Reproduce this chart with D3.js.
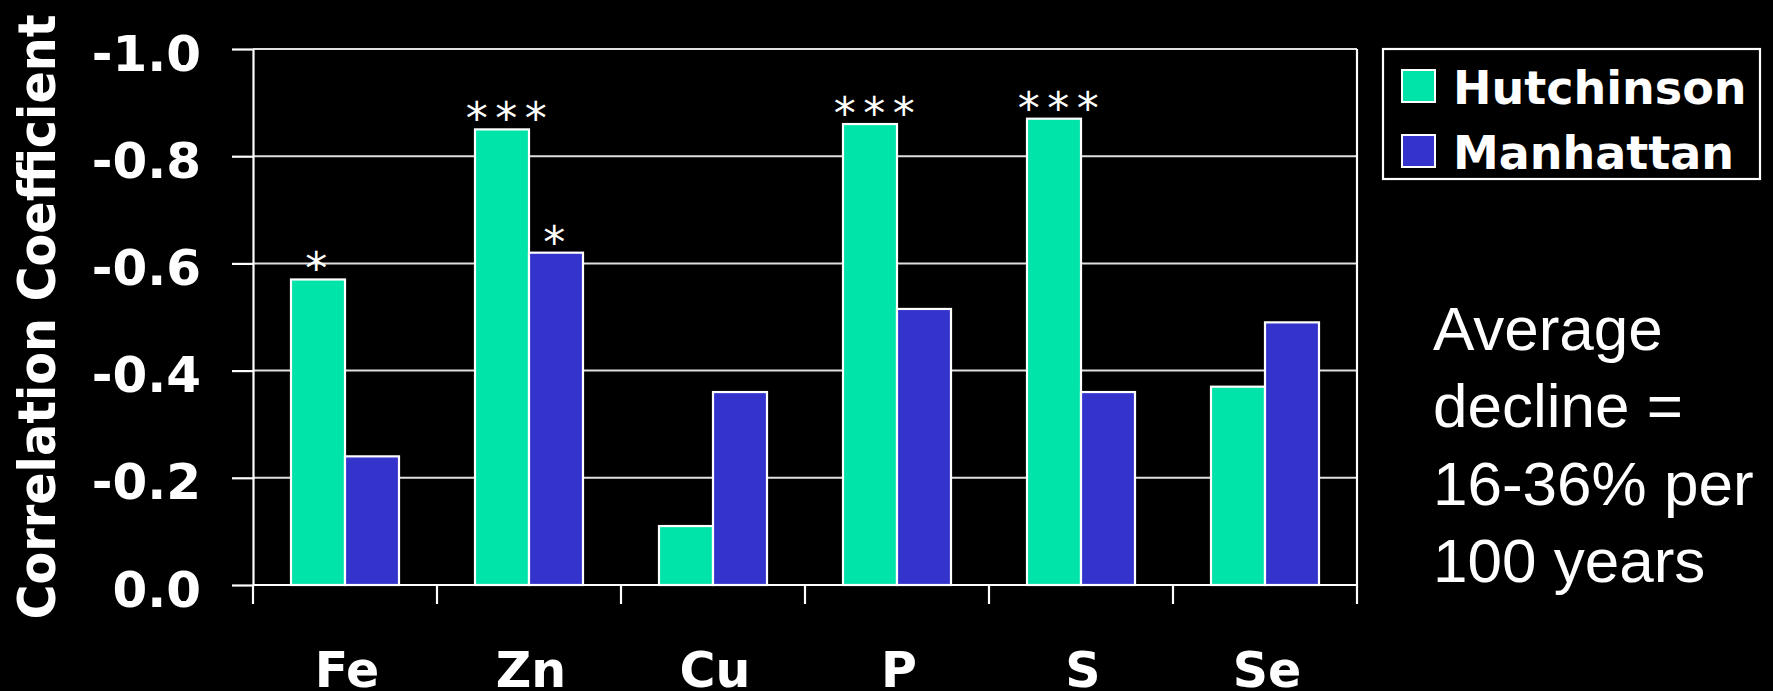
<!DOCTYPE html>
<html>
<head>
<meta charset="utf-8">
<script src="https://cdn.jsdelivr.net/npm/d3@7"></script>
<style>
  html, body { margin: 0; padding: 0; background: #000; }
  svg { display: block; }
</style>
</head>
<body>
<script>
// ---- data ----
const categories = ["Fe", "Zn", "Cu", "P", "S", "Se"];
const seriesNames = ["Hutchinson", "Manhattan"];
const hutchinson = [-0.57, -0.85, -0.11, -0.86, -0.87, -0.37];
const manhattan = [-0.24, -0.62, -0.36, -0.515, -0.36, -0.49];
const hutchinsonSig = ["*", "***", "", "***", "***", ""];
const manhattanSig = ["", "*", "", "", "", ""];
const yTicks = [0, -0.2, -0.4, -0.6, -0.8, -1.0];
const yLabel = "Correlation Coefficient";
const noteLines = ["Average", "decline =", "16-36% per", "100 years"];
const colors = ["#00E4A9", "#3434CC"];

(function () {
// ---- layout ----
const W = 1773, H = 691;
const pL = 253, pR = 1357, pT = 49, pB = 585;

const svg = d3.select("body").append("svg")
  .attr("width", W).attr("height", H)
  .style("background", "#000");

const x = d3.scaleBand().domain(categories).range([pL, pR])
  .paddingInner(0.413).paddingOuter(0.2065);
const xs = d3.scaleBand().domain(seriesNames).range([0, x.bandwidth()]);
const y = d3.scaleLinear().domain([0, -1.0]).range([pB, pT]);

const BOLD = "'DejaVu Sans', Verdana, sans-serif";
const REG = "'Liberation Sans', Arial, sans-serif";

// gridlines
svg.append("g")
  .selectAll("line").data(yTicks.filter(d => d !== 0)).join("line")
  .attr("x1", pL).attr("x2", pR)
  .attr("y1", d => y(d)).attr("y2", d => y(d))
  .attr("stroke", "#e0e0e0").attr("stroke-width", 2);

// bars
const rows = categories.map((c, i) => ({ c, vals: [hutchinson[i], manhattan[i]], sig: [hutchinsonSig[i], manhattanSig[i]] }));
const groups = svg.append("g").selectAll("g").data(rows).join("g")
  .attr("transform", d => `translate(${x(d.c)},0)`);
groups.selectAll("rect").data(d => d.vals.map((v, k) => ({ v, k }))).join("rect")
  .attr("x", d => xs(seriesNames[d.k]))
  .attr("width", xs.bandwidth())
  .attr("y", d => y(d.v))
  .attr("height", d => y(0) - y(d.v))
  .attr("fill", d => colors[d.k])
  .attr("stroke", "#fff").attr("stroke-width", 2.2);

// significance stars
groups.selectAll("text").data(d => d.vals.map((v, k) => ({ v, k, s: d.sig[k] })).filter(d => d.s)).join("text")
  .attr("x", d => xs(seriesNames[d.k]) + xs.bandwidth() / 2 + (d.s.length > 1 ? 8 : 2))
  .attr("y", d => y(d.v) + 5)
  .attr("text-anchor", "middle")
  .attr("fill", "#fff")
  .attr("font-family", "'DejaVu Sans', sans-serif")
  .attr("font-size", 44)
  .attr("letter-spacing", 7.5)
  .text(d => d.s);

// y axis
const yAxis = d3.axisLeft(y).tickValues(yTicks).tickFormat(d => d.toFixed(1))
  .tickSize(21).tickSizeOuter(0).tickPadding(31);
const gy = svg.append("g").attr("transform", `translate(${pL},0)`).call(yAxis);
gy.select(".domain").attr("stroke", "#fff").attr("stroke-width", 2.2);
gy.selectAll(".tick line").attr("stroke", "#fff").attr("stroke-width", 2.2);
gy.selectAll(".tick text")
  .attr("fill", "#fff").attr("font-family", BOLD).attr("font-weight", "bold")
  .attr("font-size", 50).attr("dy", null).attr("y", 21);

// x axis baseline
svg.append("line").attr("x1", pL).attr("x2", pR)
  .attr("y1", y(0)).attr("y2", y(0))
  .attr("stroke", "#fff").attr("stroke-width", 2.2);
// right border
svg.append("line").attr("x1", pR).attr("x2", pR)
  .attr("y1", y(-1.0)).attr("y2", y(0))
  .attr("stroke", "#fff").attr("stroke-width", 2.2);

// category boundary ticks
const boundaries = d3.range(categories.length + 1).map(i => pL + i * x.step());
svg.append("g").selectAll("line").data(boundaries).join("line")
  .attr("x1", d => d).attr("x2", d => d)
  .attr("y1", y(0)).attr("y2", y(0) + 19)
  .attr("stroke", "#fff").attr("stroke-width", 2.2);

// category labels
svg.append("g").selectAll("text").data(categories).join("text")
  .attr("x", d => x(d) + x.bandwidth() / 2 + 2)
  .attr("y", 687)
  .attr("text-anchor", "middle")
  .attr("fill", "#fff").attr("font-family", BOLD).attr("font-weight", "bold")
  .attr("font-size", 49)
  .text(d => d);

// y label
svg.append("text")
  .attr("transform", `translate(55,${(pT + pB) / 2}) rotate(-90)`)
  .attr("text-anchor", "middle")
  .attr("fill", "#fff").attr("font-family", BOLD).attr("font-weight", "bold")
  .attr("font-size", 52)
  .attr("textLength", 605).attr("lengthAdjust", "spacingAndGlyphs")
  .text(yLabel);

// legend
const lg = svg.append("g");
lg.append("rect").attr("x", 1383).attr("y", 49).attr("width", 377).attr("height", 130)
  .attr("fill", "none").attr("stroke", "#fff").attr("stroke-width", 2.2);
const items = lg.selectAll("g.item").data(seriesNames).join("g").attr("class", "item")
  .attr("transform", (d, i) => `translate(0,${i * 65})`);
items.append("rect").attr("x", 1402).attr("y", 70).attr("width", 33).attr("height", 32)
  .attr("fill", (d, i) => colors[i]).attr("stroke", "#fff").attr("stroke-width", 2);
items.append("text").attr("x", 1453).attr("y", 104)
  .attr("fill", "#fff").attr("font-family", BOLD).attr("font-weight", "bold")
  .attr("font-size", 46)
  .text(d => d);

// note
svg.append("g").selectAll("text").data(noteLines).join("text")
  .attr("x", 1433)
  .attr("y", (d, i) => 350 + i * 77.3)
  .attr("fill", "#fff").attr("font-family", REG)
  .attr("font-size", 62)
  .text(d => d);
})();
</script>
</body>
</html>
